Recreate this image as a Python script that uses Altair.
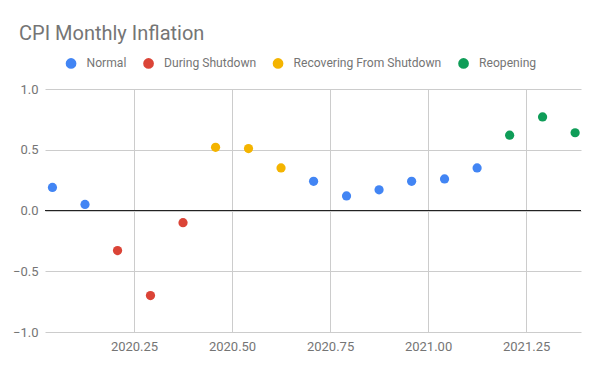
import altair as alt
import pandas as pd

months = [2020.042, 2020.125, 2020.208, 2020.292, 2020.375, 2020.458, 2020.542,
          2020.625, 2020.708, 2020.792, 2020.875, 2020.958, 2021.042, 2021.125,
          2021.208, 2021.292, 2021.375]
inflation = [0.19, 0.05, -0.33, -0.70, -0.10, 0.52, 0.51, 0.35, 0.24, 0.12,
             0.17, 0.24, 0.26, 0.35, 0.62, 0.77, 0.64]
phases = ["Normal", "Normal", "During Shutdown", "During Shutdown", "During Shutdown",
          "Recovering From Shutdown", "Recovering From Shutdown", "Recovering From Shutdown",
          "Normal", "Normal", "Normal", "Normal", "Normal", "Normal",
          "Reopening", "Reopening", "Reopening"]
phase_order = ["Normal", "During Shutdown", "Recovering From Shutdown", "Reopening"]
phase_colors = ["#4285F4", "#DB4437", "#F4B400", "#0F9D58"]
x_ticks = [2020.25, 2020.5, 2020.75, 2021.0, 2021.25]
y_ticks = [-1.0, -0.5, 0.0, 0.5, 1.0]

df = pd.DataFrame({"month": months, "inflation": inflation, "phase": phases})

x_enc = alt.X("month:Q", scale=alt.Scale(domain=[2020.023, 2021.39], nice=False, zero=False),
              axis=alt.Axis(values=x_ticks, format=".2f", title=None, domain=False, ticks=False,
                            labelColor="#757575", labelFontSize=13, labelFont="Roboto",
                            labelPadding=8, gridColor="#cccccc", labelFlush=False))
y_enc = alt.Y("inflation:Q", scale=alt.Scale(domain=[-1, 1], nice=False),
              axis=alt.Axis(values=y_ticks, format=".1f", title=None, domain=False, ticks=False,
                            labelColor="#757575", labelFontSize=13, labelFont="Roboto",
                            labelPadding=7, gridColor="#cccccc"))

points = alt.Chart(df).mark_circle(size=85, opacity=1).encode(
    x=x_enc,
    y=y_enc,
    color=alt.Color("phase:N", scale=alt.Scale(domain=phase_order, range=phase_colors),
                    legend=alt.Legend(title=None, orient="none", direction="horizontal",
                                      legendX=20, legendY=-32, symbolType="circle",
                                      symbolSize=115, symbolStrokeWidth=0,
                                      labelFont="Roboto", labelFontSize=12.1,
                                      labelColor="#757575", columnPadding=15.5,
                                      labelOffset=9.5)),
)

zero = alt.Chart(pd.DataFrame({"y": [0.0]})).mark_rule(color="#222222", strokeWidth=1).encode(
    y=alt.Y("y:Q", scale=alt.Scale(domain=[-1, 1], nice=False))
)

chart = alt.layer(points, zero).properties(
    width=536, height=243,
    autosize=alt.AutoSizeParams(type="none"),
    padding={"left": 37, "top": 81, "right": 11, "bottom": 31},
    title=alt.Title("CPI Monthly Inflation", anchor="start", frame="group", dx=-26, offset=13,
                    font="Roboto", fontSize=20, fontWeight="normal", color="#757575"),
).configure_view(stroke=None)

chart.save("out.html", embed_options={"renderer": "svg", "actions": False})
